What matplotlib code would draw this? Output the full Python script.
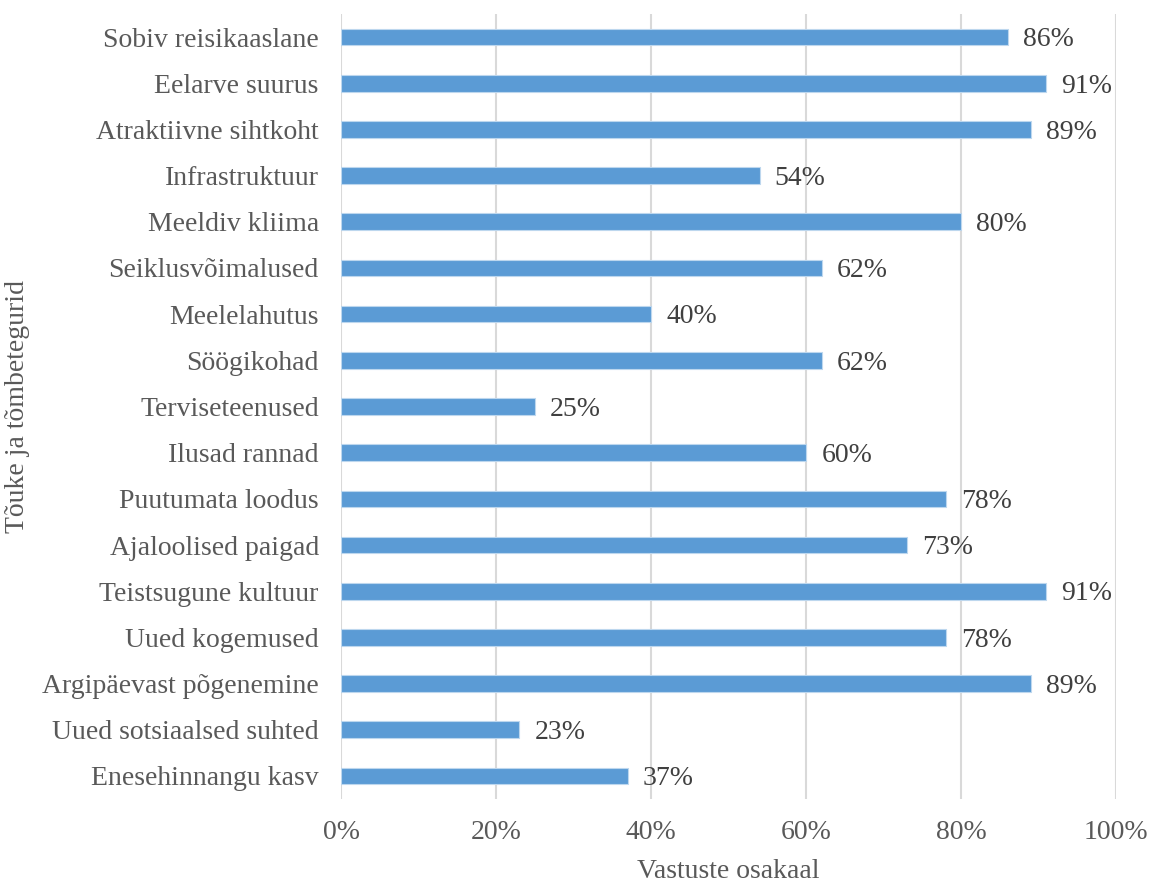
import matplotlib.pyplot as plt
from matplotlib.ticker import FuncFormatter

categories = [
    "Sobiv reisikaaslane",
    "Eelarve suurus",
    "Atraktiivne sihtkoht",
    "Infrastruktuur",
    "Meeldiv kliima",
    "Seiklusvõimalused",
    "Meelelahutus",
    "Söögikohad",
    "Terviseteenused",
    "Ilusad rannad",
    "Puutumata loodus",
    "Ajaloolised paigad",
    "Teistsugune kultuur",
    "Uued kogemused",
    "Argipäevast põgenemine",
    "Uued sotsiaalsed suhted",
    "Enesehinnangu kasv",
]
values = [86, 91, 89, 54, 80, 62, 40, 62, 25, 60, 78, 73, 91, 78, 89, 23, 37]
x_ticks = [0, 20, 40, 60, 80, 100]

text_color = "#595959"
value_color = "#404040"
fs = 20
plt.rcParams["font.family"] = ["Liberation Serif", "DejaVu Serif"]

fig = plt.figure(figsize=(11.51, 8.84), dpi=100)
ax = fig.add_axes([341 / 1151, 1 - 799 / 884, (1116 - 341) / 1151, (799 - 14) / 884])

pos = list(range(len(categories)))
ax.barh(pos, values, height=0.36, color="#5B9BD5", edgecolor="#BDD7EE",
        linewidth=0.8, zorder=3)

for p, v in zip(pos, values):
    ax.annotate(f"{v}%", xy=(v, p), xytext=(11, -2), textcoords="offset points",
                ha="left", va="center", fontsize=fs, color=value_color)

ax.set_xlim(0, 100)
ax.set_ylim(len(categories) - 0.5, -0.5)
ax.set_xticks(x_ticks)
ax.xaxis.set_major_formatter(FuncFormatter(lambda x, _: f"{x:.0f}%"))
ax.set_yticks(pos)
ax.set_yticklabels(categories)
ax.tick_params(axis="both", length=0, labelsize=fs, labelcolor=text_color)
ax.tick_params(axis="x", pad=15)
ax.tick_params(axis="y", pad=16)

ax.grid(axis="x", color="#D9D9D9", linewidth=1.5, zorder=0)
for s in ax.spines.values():
    s.set_visible(False)

ax.set_xlabel("Vastuste osakaal", fontsize=fs, color=text_color, labelpad=10)
ax.set_ylabel("Tõuke ja tõmbetegurid", fontsize=fs, color=text_color)
ax.yaxis.set_label_coords(-311 / 775, 0.5)

fig.savefig("out.png", dpi=100)
